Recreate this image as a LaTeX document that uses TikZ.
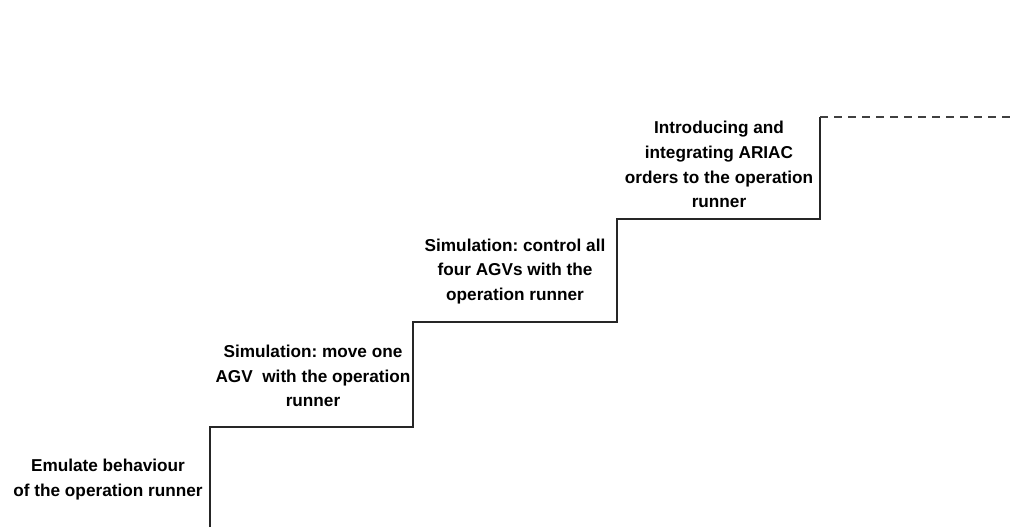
\documentclass[tikz,border=0pt]{standalone}
\usepackage{fontspec}
\setmainfont{Liberation Sans}
\frenchspacing
\begin{document}
\begin{tikzpicture}[x=1pt,y=-1pt,
  stair/.style={draw=black!85,line width=1.4pt},
  future/.style={draw=black!75,line width=1.2pt,dash pattern=on 8pt off 6pt},
  label/.style={align=center,inner sep=0pt,font=\bfseries\fontsize{17.2}{24.8}\selectfont}]
\useasboundingbox (0,0) rectangle (1011,527);
\coordinate (s0) at (210,527);
\coordinate (s1) at (210,427);
\coordinate (s2) at (413,427);
\coordinate (s3) at (413,322);
\coordinate (s4) at (617,322);
\coordinate (s5) at (617,219);
\coordinate (s6) at (820,219);
\coordinate (s7) at (820,117);
\coordinate (s8) at (1011,117);
\draw[stair] (s0) -- (s1) -- (s2) -- (s3) -- (s4) -- (s5) -- (s6) -- (s7);
\draw[future] (s7) -- (s8);
\node[label] (t1) at (108,479.5) {Emulate behaviour\\of the operation runner};
\node[label] (t2) at (313,376) {Simulation: move one\\AGV\ \ with the operation\\runner};
\node[label] (t3) at (515,271.5) {Simulation: control all\\four AGVs with the\\operation runner};
\node[label] (t4) at (719,164.5) {Introducing and\\integrating ARIAC\\orders to the operation\\runner};
\end{tikzpicture}
\end{document}
